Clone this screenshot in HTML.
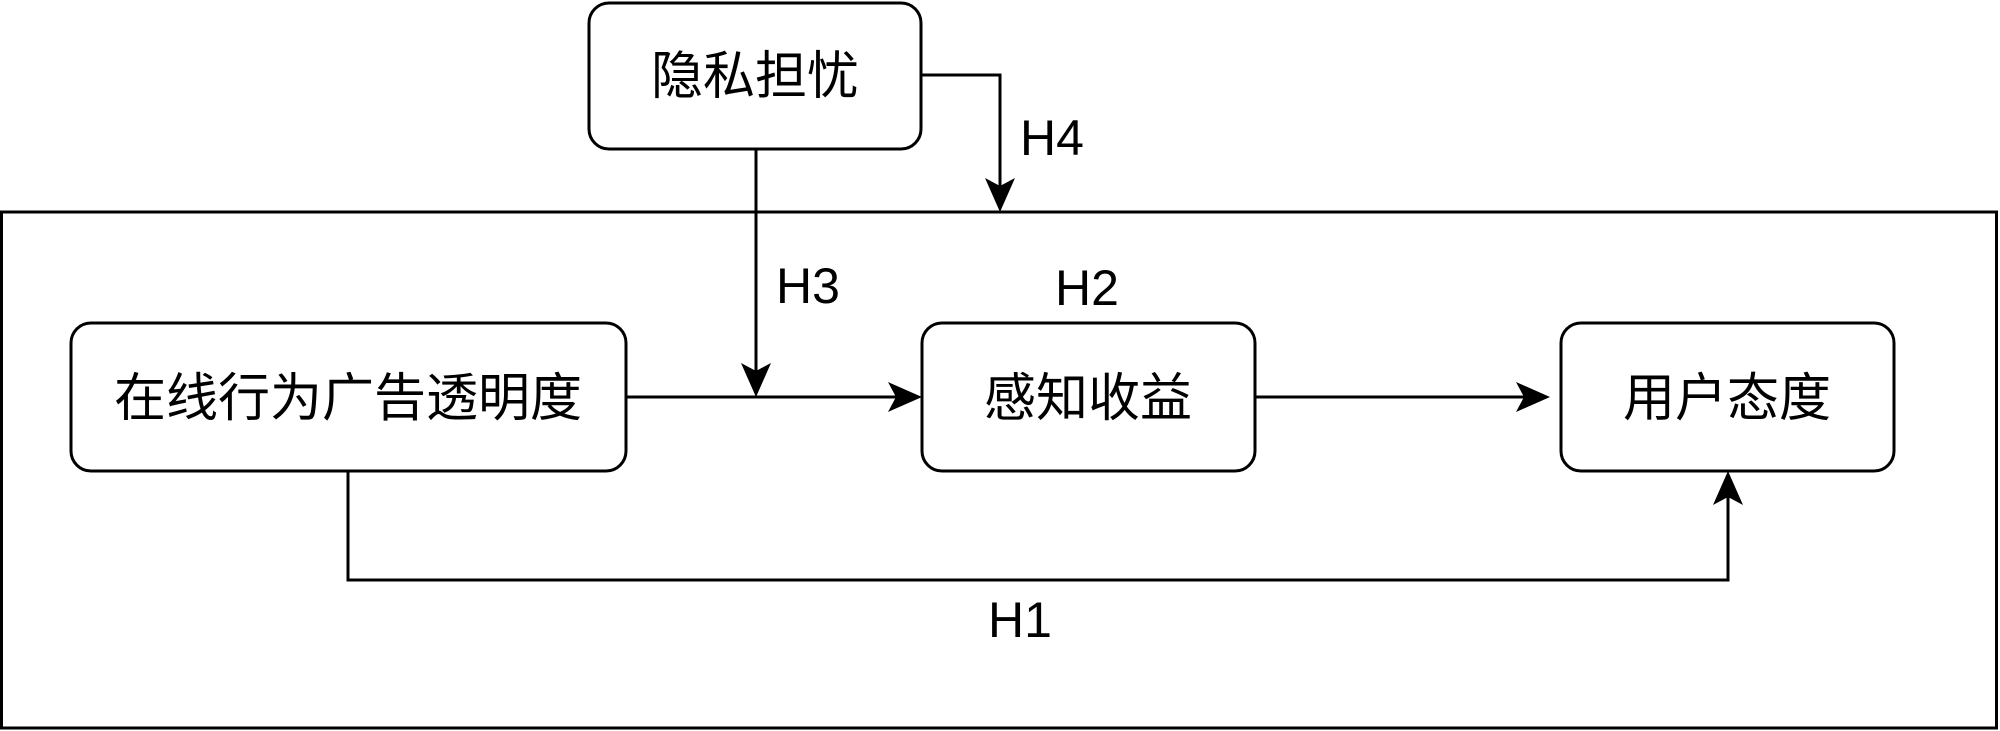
<!DOCTYPE html>
<html><head><meta charset="utf-8"><style>
body{margin:0;background:#fff;}
svg{display:block;}
text{font-family:"Liberation Sans","Noto Sans CJK SC",sans-serif;fill:#000;}
</style></head><body>
<svg width="2000" height="731" viewBox="0 0 2000 731" xmlns="http://www.w3.org/2000/svg">
<rect x="1.5" y="212" width="1995" height="516" fill="#fff" stroke="#000" stroke-width="3"/>
<g fill="#fff" stroke="#000" stroke-width="3">
<rect x="589" y="3" width="332" height="146" rx="20"/>
<rect x="71" y="323" width="555" height="148" rx="20"/>
<rect x="922" y="323" width="333" height="148" rx="20"/>
<rect x="1561" y="323" width="333" height="148" rx="20"/>
</g>
<g stroke="#000" stroke-width="3" fill="none">
<path d="M756 149 V382"/>
<path d="M921 75 H1000 V198"/>
<path d="M626 397 H908"/>
<path d="M1255 397 H1547"/>
<path d="M348 471 V580 H1728 V485"/>
</g>
<g fill="#000">
<path d="M756 397 L741 363 L756 371 L771 363 Z"/>
<path d="M1000 212 L985 178 L1000 186 L1015 178 Z"/>
<path d="M922 397 L888 382 L896 397 L888 412 Z"/>
<path d="M1550 397 L1516 382 L1524 397 L1516 412 Z"/>
<path d="M1728 471 L1713 505 L1728 497 L1743 505 Z"/>
</g>
<g font-size="52" text-anchor="middle">
<text x="755" y="94">隐私担忧</text>
<text x="348" y="416">在线行为广告透明度</text>
<text x="1088" y="416">感知收益</text>
<text x="1727" y="416">用户态度</text>
</g>
<g font-size="50" text-anchor="middle">
<text x="1052" y="155">H4</text>
<text x="808" y="303">H3</text>
<text x="1087" y="305">H2</text>
<text x="1020" y="637">H1</text>
</g>
</svg>
</body></html>
